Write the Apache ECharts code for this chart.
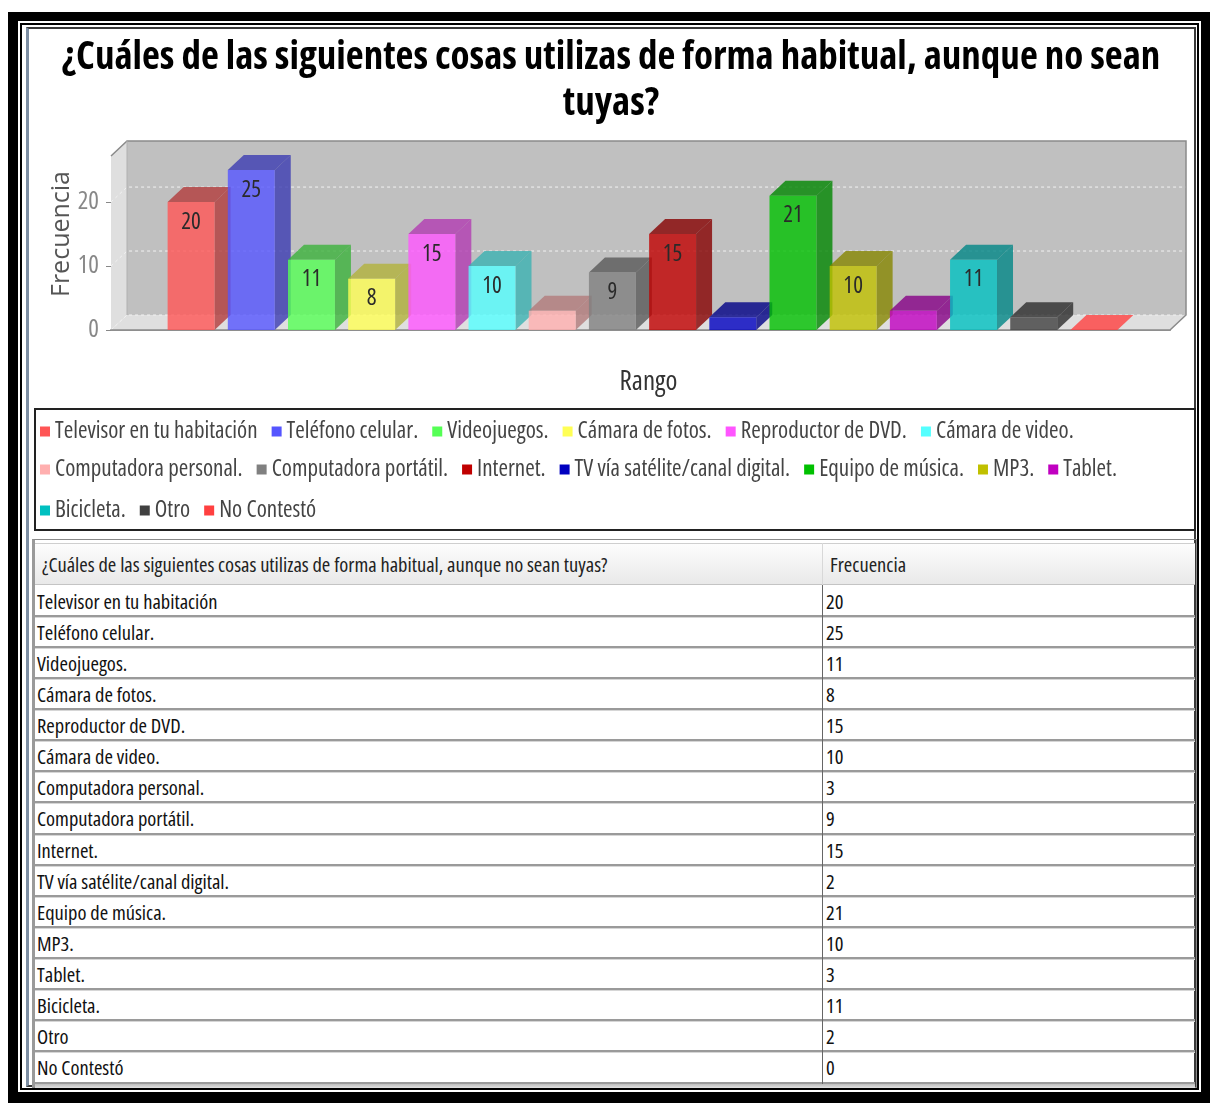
<!DOCTYPE html>
<html>
<head>
<meta charset="utf-8">
<script src="https://cdn.jsdelivr.net/npm/echarts@6/dist/echarts.min.js"></script>
<style>
body{margin:0;background:#fff;width:1210px;height:1108px;position:relative;overflow:hidden}
.abs{position:absolute;box-sizing:border-box}
#chart{position:absolute;left:0;top:0;width:1210px;height:540px;z-index:5}
.cell{position:absolute;white-space:nowrap;font-family:"Open Sans",sans-serif;font-stretch:condensed;font-size:20.5px;color:#111}
</style>
</head>
<body>
<div class="abs" style="left:8px;top:12px;width:1202px;height:1091px;background:#000"></div>
<div class="abs" style="left:18px;top:21px;width:1183px;height:1071px;background:#fff"></div>
<div class="abs" style="left:20px;top:23px;width:1179px;height:1067px;background:#000"></div>
<div class="abs" style="left:22px;top:25px;width:1175px;height:1063px;background:#fff"></div>
<div class="abs" style="left:26px;top:27px;width:1170px;height:1060px;border-left:3px solid #7d8ea3;border-top:2px solid #3a3a3a;border-right:2px solid #3a3a3a;border-bottom:2px solid #3a3a3a"></div>
<div id="tbl"></div>
<div id="chart"></div>
<script>
var titulo = '¿Cuáles de las siguientes cosas utilizas de forma habitual, aunque no sean\ntuyas?';
var categories = ['Televisor en tu habitación', 'Teléfono celular.', 'Videojuegos.', 'Cámara de fotos.',
  'Reproductor de DVD.', 'Cámara de video.', 'Computadora personal.', 'Computadora portátil.',
  'Internet.', 'TV vía satélite/canal digital.', 'Equipo de música.', 'MP3.', 'Tablet.',
  'Bicicleta.', 'Otro', 'No Contestó'];
var frecuencia = [20, 25, 11, 8, 15, 10, 3, 9, 15, 2, 21, 10, 3, 11, 2, 0];
var yTicks = [0, 10, 20];
var tableHeaders = ['¿Cuáles de las siguientes cosas utilizas de forma habitual, aunque no sean tuyas?', 'Frecuencia'];
var colors = ['#ff5555', '#5555ff', '#55ff55', '#ffff55', '#ff55ff', '#55ffff', '#ffafaf', '#808080',
  '#c00000', '#0000c0', '#00c000', '#c0c000', '#c000c0', '#00c0c0', '#404040', '#ff4040'];
var legendRows = [categories.slice(0, 6), categories.slice(6, 13), categories.slice(13)];

var DX = 16, DY = 15;   // profundidad 3D
var yMax = 27.2;
var FONT = 'Open Sans';

// ---- tabla de frecuencias ----
var tbl = document.getElementById('tbl');
var html = '';
html += '<div class="abs" style="left:32px;top:539px;width:1165px;height:549px;border:1px solid #8a8a8a;border-left:3px solid #9a9a9a"></div>';
html += '<div class="abs" style="left:35px;top:543px;width:1160px;height:42px;background:linear-gradient(#fdfdfd,#e9e9e9);border-top:1px solid #cfcfcf;border-bottom:1px solid #c4c4c4"></div>';
html += '<div class="abs" style="left:822px;top:543px;width:1px;height:42px;background:#d8d8d8"></div>';
html += '<div class="cell" style="left:42px;top:543px;line-height:42px;color:#222">' + tableHeaders[0] + '</div>';
html += '<div class="cell" style="left:830px;top:543px;line-height:42px;color:#222">' + tableHeaders[1] + '</div>';
var rowH = 31.13;
categories.forEach(function (c, i) {
  var t = 585.5 + rowH * i;
  html += '<div class="abs" style="left:35px;top:' + t + 'px;width:1160px;height:' + rowH + 'px;border-bottom:2px solid #9a9a9a;box-shadow:0 1px 0 #d6d6d6"></div>';
  html += '<div class="cell" style="left:37px;top:' + t + 'px;line-height:' + (rowH - 1) + 'px">' + c + '</div>';
  html += '<div class="cell" style="left:826px;top:' + t + 'px;line-height:' + (rowH - 1) + 'px">' + frecuencia[i] + '</div>';
});
html += '<div class="abs" style="left:822px;top:585px;width:1px;height:499px;background:#666"></div>';
html += '<div class="abs" style="left:35px;top:1084px;width:1160px;height:4px;background:linear-gradient(#bdbdbd,#e0e0e0)"></div>';
tbl.innerHTML = html;

// ---- grafico ----
function darker(hex) {
  var r = parseInt(hex.substr(1, 2), 16), g = parseInt(hex.substr(3, 2), 16), b = parseInt(hex.substr(5, 2), 16);
  return 'rgb(' + Math.floor(r * 0.7) + ',' + Math.floor(g * 0.7) + ',' + Math.floor(b * 0.7) + ')';
}

function renderWalls(params, api) {
  var cs = params.coordSys;
  var x = cs.x, y = cs.y, w = cs.width, h = cs.height;
  var kids = [
    {type: 'rect', shape: {x: x + DX, y: y - DY, width: w, height: h}, style: {fill: '#c0c0c0'}},
    {type: 'polygon', shape: {points: [[x, y], [x + DX, y - DY], [x + DX, y + h - DY], [x, y + h]]}, style: {fill: '#dfdfdf'}},
    {type: 'polygon', shape: {points: [[x, y + h], [x + DX, y + h - DY], [x + w + DX, y + h - DY], [x + w, y + h]]}, style: {fill: '#dfdfdf'}}
  ];
  yTicks.forEach(function (v) {
    var yy = api.coord([0, v])[1];
    kids.push({type: 'polyline', shape: {points: [[x, yy], [x + DX, yy - DY], [x + w + DX, yy - DY]]},
      style: {stroke: '#f2f2f2', lineWidth: 1, lineDash: [3, 3], fill: null}});
  });
  kids.push({type: 'polyline', shape: {points: [[x, y], [x + DX, y - DY], [x + w + DX, y - DY], [x + w + DX, y + h - DY], [x + w, y + h], [x, y + h]]},
    style: {stroke: '#8a8a8a', lineWidth: 1.5, fill: null}});
  kids.push({type: 'line', shape: {x1: x + DX, y1: y - DY, x2: x + DX, y2: y + h - DY}, style: {stroke: '#b0b0b0', lineWidth: 1}});
  return {type: 'group', children: kids};
}

function renderBar(params, api) {
  var v = api.value(1);
  var top = api.coord([api.value(0), v]);
  var base = api.coord([api.value(0), 0]);
  var w = api.size([1, 0])[0] * 0.78;
  var x0 = top[0] - w / 2, x1 = top[0] + w / 2;
  var yT = top[1], yB = base[1];
  var c = api.visual('color');
  var d = darker(c);
  var z = params.seriesIndex * 10;
  var kids = [
    {type: 'polygon', z2: z, shape: {points: [[x1, yT], [x1 + DX, yT - DY], [x1 + DX, yB - DY], [x1, yB]]}, style: {fill: d, opacity: 0.8}},
    {type: 'polygon', z2: z, shape: {points: [[x0, yT], [x0 + DX, yT - DY], [x1 + DX, yT - DY], [x1, yT]]}, style: {fill: yB - yT < 1 ? c : d, opacity: 0.8}},
    {type: 'rect', z2: z + 1, shape: {x: x0, y: yT, width: w, height: yB - yT}, style: {fill: c, opacity: 0.8}}
  ];
  if (yB - yT > 30) {
    kids.push({type: 'text', z2: z + 2, x: top[0], y: yT + 20,
      style: {text: String(v), textAlign: 'center', textVerticalAlign: 'middle',
        font: 'condensed 23px "' + FONT + '"', fill: '#2a2a2a'}});
  }
  return {type: 'group', children: kids};
}

var series = [{
  type: 'custom', name: 'paredes', xAxisIndex: 0, yAxisIndex: 0, z: 1, silent: true,
  data: [[0, 0]], renderItem: renderWalls
}];
categories.forEach(function (name, i) {
  series.push({
    type: 'custom', name: name, xAxisIndex: 1, yAxisIndex: 1, z: 3, silent: true,
    itemStyle: {color: colors[i]},
    data: [[i, frecuencia[i]]],
    renderItem: renderBar
  });
});

var legendTops = [420, 458, 499];
var legends = legendRows.map(function (row, k) {
  return {
    data: row, left: 40, top: legendTops[k], width: 1150, orient: 'horizontal', padding: 0,
    icon: 'rect', itemWidth: 10, itemHeight: 10, itemGap: 14, selectedMode: false,
    textStyle: {fontFamily: FONT, fontWeight: 'condensed', fontSize: 23, color: '#444'}
  };
});

var myChart = echarts.init(document.getElementById('chart'));
var option = {
  animation: false,
  title: {
    text: titulo, left: 606, top: 30, textAlign: 'center',
    textStyle: {fontFamily: FONT, fontWeight: 'bold condensed', fontSize: 39, lineHeight: 46, color: '#000'}
  },
  legend: legends,
  grid: [
    {left: 111, top: 156, right: 40, bottom: 210},
    {left: 161, top: 156, right: 86, bottom: 210}
  ],
  xAxis: [
    {
      gridIndex: 0, type: 'category', data: [''], offset: 7,
      name: 'Rango', nameLocation: 'middle', nameGap: 32,
      nameTextStyle: {fontFamily: FONT, fontWeight: 'condensed', fontSize: 27, color: '#333', padding: [0, 0, 0, 16]},
      axisLine: {lineStyle: {color: '#999', width: 2}},
      axisTick: {alignWithLabel: true, length: 4, lineStyle: {color: '#888'}},
      axisLabel: {show: false}
    },
    {gridIndex: 1, type: 'category', data: categories, show: false}
  ],
  yAxis: [
    {
      gridIndex: 0, type: 'value', min: 0, max: yMax, interval: 10,
      name: 'Frecuencia', nameLocation: 'middle', nameGap: 37, nameRotate: 90, nameMoveOverlap: false,
      nameTextStyle: {fontFamily: FONT, fontSize: 25, color: '#555', padding: [0, 0, 0, 18]},
      axisLine: {show: true, lineStyle: {color: '#888'}},
      axisTick: {show: true, length: 5, customValues: yTicks, lineStyle: {color: '#888'}},
      axisLabel: {customValues: yTicks, margin: 12, fontFamily: FONT, fontWeight: 'condensed', fontSize: 25, color: '#888'},
      splitLine: {show: false}
    },
    {gridIndex: 1, type: 'value', min: 0, max: yMax, show: false}
  ],
  graphic: [
    {type: 'rect', shape: {x: 35, y: 409, width: 1160, height: 121}, style: {fill: null, stroke: '#222', lineWidth: 2}, z: 10}
  ],
  series: series
};
myChart.setOption(option);
</script>
</body>
</html>
